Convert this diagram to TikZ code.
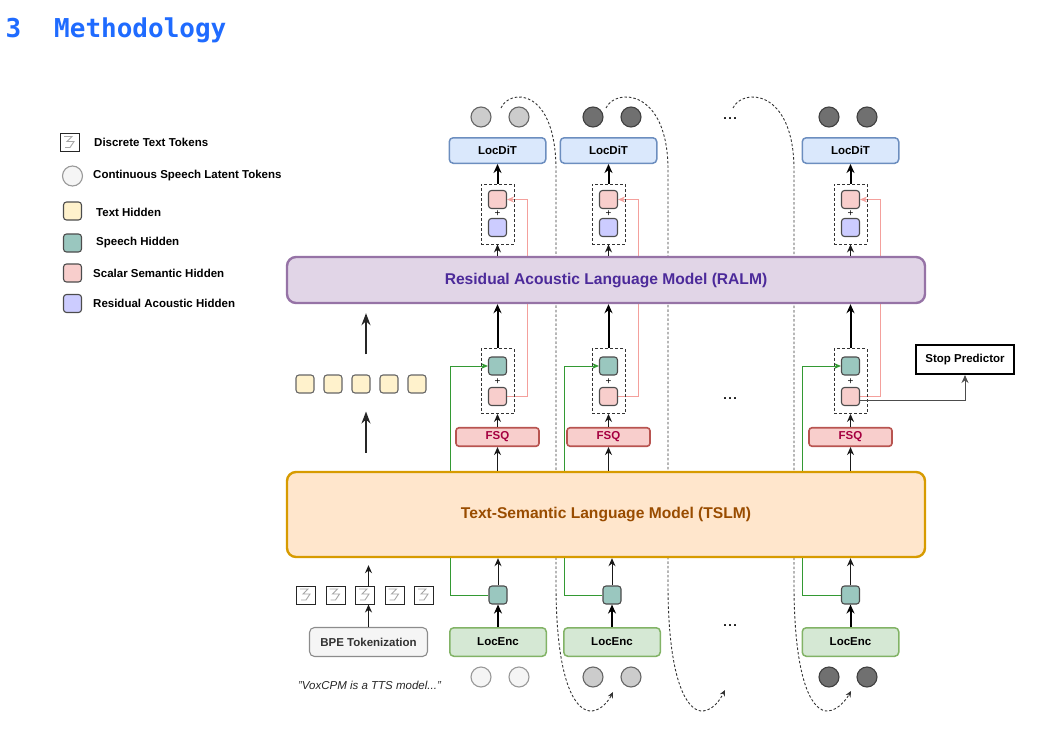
\documentclass[tikz,border=0pt]{standalone}
\usepackage{fontspec}
\setmainfont{Liberation Sans}
\newfontfamily\titlefont{DejaVu Sans Mono}
\usetikzlibrary{arrows.meta, positioning, backgrounds}

\definecolor{ralmfill}{HTML}{E1D5E7}
\definecolor{ralmline}{HTML}{9673A6}
\definecolor{ralmtext}{HTML}{4C2A9A}
\definecolor{tslmfill}{HTML}{FFE6CC}
\definecolor{tslmline}{HTML}{D79B00}
\definecolor{tslmtext}{HTML}{994C00}
\definecolor{ditfill}{HTML}{DAE8FC}
\definecolor{ditline}{HTML}{6C8EBF}
\definecolor{encfill}{HTML}{D5E8D4}
\definecolor{encline}{HTML}{82B366}
\definecolor{fsqfill}{HTML}{F8CECC}
\definecolor{fsqline}{HTML}{B85450}
\definecolor{fsqtext}{HTML}{A50040}
\definecolor{speechfill}{HTML}{9AC7BF}
\definecolor{scalarfill}{HTML}{F8CECC}
\definecolor{residfill}{HTML}{CCCCFF}
\definecolor{textfill}{HTML}{FFF2CC}
\definecolor{pinkline}{HTML}{F4A09C}
\definecolor{greenline}{HTML}{339933}
\definecolor{titleblue}{HTML}{1F6BFF}
\definecolor{lat0}{HTML}{F5F5F5}
\definecolor{lat0d}{HTML}{999999}
\definecolor{lat1}{HTML}{CCCCCC}
\definecolor{lat1d}{HTML}{666666}
\definecolor{lat2}{HTML}{707070}
\definecolor{lat2d}{HTML}{404040}

\begin{document}
\begin{tikzpicture}[
    x=1pt, y=-1pt,
    font=\fontsize{11.5}{13.8}\selectfont\bfseries,
    model/.style={rectangle, draw, rounded corners=9pt, line width=2.4pt, minimum width=638pt, font=\fontsize{15.6}{18}\selectfont\bfseries},
    module/.style={rectangle, draw, rounded corners=4pt, line width=1.5pt, minimum width=96.5pt, minimum height=25.5pt, inner sep=0pt},
    fsqbox/.style={rectangle, draw=fsqline, fill=fsqfill, text=fsqtext, rounded corners=3pt, line width=1.6pt, minimum width=83pt, minimum height=18.5pt, inner sep=0pt},
    stopbox/.style={rectangle, draw, fill=white, line width=2pt, minimum width=98pt, minimum height=29pt, inner sep=0pt},
    plainbox/.style={rectangle, draw=black!45, fill=lat0, text=black!80, rounded corners=5pt, line width=1.1pt, minimum width=118pt, minimum height=29pt, inner sep=0pt},
    hid/.style={rectangle, draw=black!70, rounded corners=3pt, line width=1.1pt, minimum size=18pt, inner sep=0pt},
    grp/.style={rectangle, draw=black!80, dash pattern=on 3pt off 2pt, line width=0.9pt, minimum width=33pt, inner sep=0pt},
    lat/.style={circle, fill=lat#1, draw=lat#1d, line width=1.1pt, minimum size=20pt, inner sep=0pt},
    tok/.style={rectangle, draw=black!85, fill=white, line width=1pt, minimum width=19pt, minimum height=18pt, inner sep=0pt,
        path picture={\draw[black!35, line width=0.9pt] ([shift={(-6,-6)}]path picture bounding box.center) -- ++(8,0) -- ++(-5,5) -- ++(7,0) -- ++(-4,6) -- ++(-5,0);}},
    plussign/.style={font=\fontsize{10}{10}\selectfont\mdseries, inner sep=0pt},
    ellip/.style={font=\fontsize{18}{18}\selectfont\mdseries, inner sep=0pt, anchor=base},
    keytext/.style={anchor=west, inner sep=0pt},
    arrow/.style={-{Stealth[length=8pt, width=7pt]}, line width=1pt, black!90},
    bigarrow/.style={-{Stealth[length=9pt, width=8pt]}, line width=2pt},
    tallarrow/.style={-{Stealth[length=12pt, width=9pt]}, line width=1.7pt, black!85},
    pinkarrow/.style={-{Stealth[length=7pt, width=6pt]}, line width=1pt, pinkline},
    greenarrow/.style={-{Stealth[length=7pt, width=6pt]}, line width=1pt, greenline},
    stoparrow/.style={-{Stealth[length=8pt, width=7pt]}, line width=1pt, black!70},
    recur/.style={-{Stealth[length=6pt, width=5.5pt]}, line width=0.9pt, black!80, dash pattern=on 2.5pt off 2pt},
]
    \useasboundingbox (0,0) rectangle (1037,731);

    \node[anchor=base west, inner sep=0pt, text=titleblue, font=\titlefont\fontsize{26}{30}\selectfont\bfseries] (secnum) at (5.5,37.5) {3};
    \node[anchor=base west, inner sep=0pt, text=titleblue, font=\titlefont\fontsize{26}{30}\selectfont\bfseries] (sectitle) at (54,37.5) {Methodology};

    \node[tok] (key1) at (70,142.5) {};
    \node[lat=0] (key2) at (72.5,176) {};
    \node[hid, fill=textfill] (key3) at (72.5,211) {};
    \node[hid, fill=speechfill] (key4) at (72.5,243) {};
    \node[hid, fill=scalarfill] (key5) at (72.5,273) {};
    \node[hid, fill=residfill] (key6) at (72.5,303.5) {};
    \node[keytext] (key1t) at (94,142.5) {Discrete Text Tokens};
    \node[keytext] (key2t) at (93,176) {Continuous Speech Latent Tokens};
    \node[keytext] (key3t) at (96,212) {Text Hidden};
    \node[keytext] (key4t) at (96,243) {Speech Hidden};
    \node[keytext] (key5t) at (93,273) {Scalar Semantic Hidden};
    \node[keytext] (key6t) at (93,303.5) {Residual Acoustic Hidden};

    \node[model, draw=ralmline, fill=ralmfill, text=ralmtext, minimum height=46pt] (ralm) at (606,280) {Residual Acoustic Language Model (RALM)};
    \node[model, draw=tslmline, fill=tslmfill, text=tslmtext, minimum height=85pt] (tslm) at (606,514.5) {Text-Semantic Language Model (TSLM)};

    \foreach \c/\xt/\xb/\mx/\up/\dn in {1/497.5/498/500/1/0, 2/608.5/612/612/2/1, 3/850.5/850.5/848/2/2} {
        \node[lat=\up] (ua\c) at (\mx-19,117) {};
        \node[lat=\up] (ub\c) at (\mx+19,117) {};
        \node[module, fill=ditfill, draw=ditline] (dit\c) at (\xt,150.5) {LocDiT};
        \node[grp, minimum height=60pt] (ug\c) at (\xt,214) {};
        \node[hid, fill=scalarfill] (us\c) at (\xt,199.5) {};
        \node[hid, fill=residfill] (ur\c) at (\xt,227.5) {};
        \node[plussign] (uplus\c) at (\xt,213.5) {+};
        \node[grp, minimum height=65pt] (mg\c) at (\xt,381) {};
        \node[hid, fill=speechfill] (ms\c) at (\xt,366) {};
        \node[hid, fill=scalarfill] (mp\c) at (\xt,396.5) {};
        \node[plussign] (mplus\c) at (\xt,382) {+};
        \node[fsqbox] (fsq\c) at (\xt,437) {FSQ};
        \node[hid, fill=speechfill] (es\c) at (\xb,595) {};
        \node[module, fill=encfill, draw=encline, minimum height=28.5pt] (enc\c) at (\xb,642) {LocEnc};
        \node[lat=\dn] (da\c) at (\mx-19,677) {};
        \node[lat=\dn] (db\c) at (\mx+19,677) {};

        \draw[arrow] (ralm.north -| ug\c) -- (ug\c.south);
        \draw[bigarrow] (ug\c.north) -- (dit\c.south);
        \draw[arrow] (tslm.north -| fsq\c) -- (fsq\c.south);
        \draw[arrow] (fsq\c.north) -- (mg\c.south);
        \draw[bigarrow] (mg\c.north) -- (ralm.south -| mg\c);
        \draw[bigarrow] (enc\c.north) -- (es\c.south);
        \draw[arrow] (es\c.north) -- (tslm.south -| es\c);
    }

    \node[ellip] (dtop) at (730,119) {...};
    \node[ellip] (dmid) at (730,399) {...};
    \node[ellip] (dbot) at (730,626) {...};

    \node[stopbox] (stop) at (965,359.5) {Stop Predictor};
    \draw[stoparrow] ([yshift=-4pt]mp3.east) -| (stop.south);

    \foreach \i in {1,...,5} {
        \node[hid, fill=textfill, draw=black!60] (th\i) at (277+28*\i,384) {};
        \node[tok] (tk\i) at (276.5+29.5*\i,595) {};
    }
    \node[plainbox] (bpe) at (368.5,642) {BPE Tokenization};
    \node[inner sep=0pt, font=\fontsize{11.5}{13}\selectfont\mdseries\itshape, text=black!85] (quote) at (369.5,685) {"VoxCPM is a TTS model..."};

    \draw[arrow] (bpe.north) -- (bpe.north |- tk3.south);
    \draw[arrow, shorten >=7pt] (bpe.north |- tk3.north) -- (bpe.north |- tslm.south);
    \draw[tallarrow, shorten <=18pt, shorten >=18pt] (th3.south -| bpe.north) ++(-2.5,0) coordinate (thl) (bpe.north |- tslm.north) ++(-2.5,0) -- (thl);
    \draw[tallarrow, shorten <=20pt, shorten >=9pt] (th3.north -| bpe.north) ++(-2.5,0) -- ([xshift=-2.5pt]bpe.north |- ralm.south);

    \coordinate (rs1) at (501,108);
    \coordinate (re1) at (613,692);
    \coordinate (rs2) at (606,108);
    \coordinate (re2) at (725,690);
    \coordinate (rs3) at (733,108);
    \coordinate (re3) at (851,691);

    \begin{scope}[on background layer]
        \foreach \c in {1,2,3} {
            \draw[pinkarrow] (mp\c.east) -- ++(20,0) |- (us\c.east);
            \draw[greenarrow] (es\c.west) -- ++(-38,0) |- (ms\c.west);
        }
        \draw[recur] (rs1) .. controls (510,88) and (556,88) .. (556,170) -- (556,590) .. controls (557,690) and (578,712) .. (592,711) .. controls (602,710) and (609,700) .. (re1);
        \draw[recur] (rs2) .. controls (615,88) and (668,88) .. (668,170) -- (668,590) .. controls (669,690) and (690,712) .. (703,711) .. controls (713,710) and (720,700) .. (re2);
        \draw[recur] (rs3) .. controls (742,88) and (794,88) .. (794,170) -- (794,590) .. controls (795,690) and (815,712) .. (828,711) .. controls (838,710) and (846,700) .. (re3);
    \end{scope}
\end{tikzpicture}
\end{document}
